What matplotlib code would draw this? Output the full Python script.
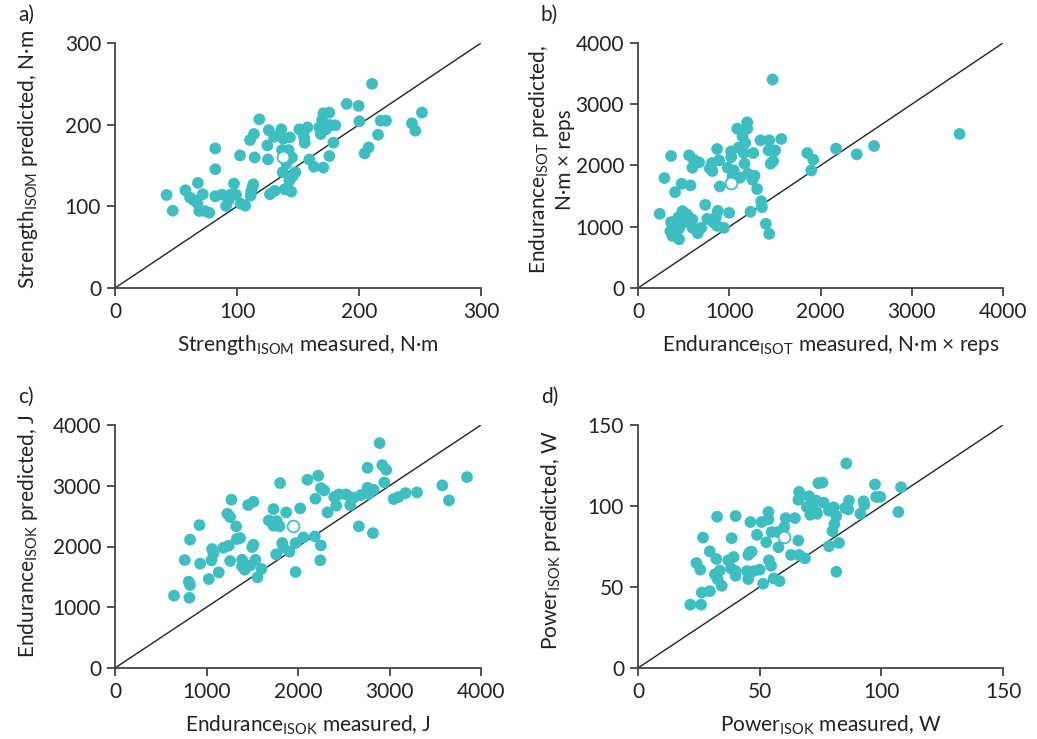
import matplotlib
matplotlib.use("Agg")
import matplotlib.pyplot as plt
import numpy as np

plt.rcParams['font.family'] = ['Lato', 'DejaVu Sans']
plt.rcParams['mathtext.fontset'] = 'custom'
plt.rcParams['mathtext.rm'] = 'Lato'

TEAL = '#3dbfc2'

# Panel a: Strength ISOM (measured, predicted)
a_meas = [42.3, 47.3, 57.7, 61.5, 64.8, 67.5, 68, 69, 71.9, 73.5, 77.3, 82.2, 82.2, 82.2, 87.7, 91,
          93.2, 94.8, 97.5, 99.2, 103, 106.8, 102.5, 110.7, 113.9, 114.5, 111.2, 111.7, 112.8, 113.4,
          118.3, 126, 124.9, 125.4, 127, 130.9, 130.3, 136.3, 138, 143.4, 136.9, 142.3, 145.1, 140.7,
          137.4, 139.1, 144.5, 142.9, 145.6, 147.8, 151.1, 154.4, 157.7, 155.5, 155, 159.3, 163.1,
          170.8, 168.6, 167.5, 169.7, 170.8, 175.7, 173, 176.2, 180.6, 179, 175.7, 189.9, 199.7, 200.3,
          210.7, 215.6, 207.9, 204.6, 217.8, 222.1, 243.4, 246.2, 251.6]
a_pred = [113.9, 94.7, 119.7, 110.7, 107.4, 104, 128.7, 94.3, 114.8, 94.3, 92.2, 170.9, 145.5, 112.3,
          114.3, 100.4, 107.4, 114.3, 127.9, 114.3, 103.3, 100.8, 162.3, 181.1, 188.5, 159.8, 113.1,
          118.9, 123.8, 127, 206.6, 193.4, 174.6, 157.4, 114.8, 118.9, 185.2, 194.3, 182.8, 184.4,
          168.9, 168.9, 159.8, 152.5, 141.8, 120.9, 118, 131.1, 136.9, 141.8, 194.3, 189.3, 196.7,
          177.9, 184.4, 157.4, 148.4, 147.5, 188.5, 196.7, 205.7, 213.9, 214.8, 194.3, 199.6, 199.2,
          177.9, 161.5, 225.4, 223, 204.1, 250, 187.7, 172.1, 164.8, 204.9, 204.9, 201.6, 192.6, 214.8]
a_mean = (138, 159.8)

# Panel b: Endurance ISOT
b_meas = [1475, 3524, 2587, 2397, 2170, 1855, 1921, 1899, 1197, 1197, 1087, 1145, 1175, 1101, 1021,
          1021, 1160, 1263, 1343, 1438, 1570, 1431, 1504, 1482, 1453, 1167, 867, 889, 809, 787, 816,
          984, 1050, 1036, 1116, 1204, 1277, 1255, 1306, 897, 362, 560, 611, 670, 596, 289, 479, 575,
          406, 736, 238, 487, 538, 443, 362, 596, 406, 501, 450, 355, 377, 450, 596, 655, 692, 758,
          875, 853, 823, 867, 941, 999, 1233, 1350, 1358, 1402, 1438]
b_pred = [3404, 2515, 2318, 2182, 2275, 2204, 2095, 1920, 2705, 2602, 2602, 2476, 2367, 2291, 2231,
          2138, 2204, 2204, 2411, 2411, 2433, 2247, 2247, 2073, 2029, 2029, 2269, 2084, 2040, 1953,
          1909, 1964, 1920, 1822, 1800, 1865, 1833, 1767, 1615, 1658, 2155, 2166, 2095, 2051, 1964,
          1795, 1702, 1675, 1565, 1358, 1211, 1255, 1200, 1156, 1075, 1118, 1058, 1075, 971, 927, 851,
          796, 982, 895, 982, 1129, 1260, 1156, 1075, 1015, 982, 1227, 1244, 1418, 1320, 1047, 884]
b_mean = (1014, 1713)

# Panel c: Endurance ISOK
c_meas = [2892, 2921, 2964, 2760, 2943, 2221, 2104, 1805, 2250, 2286, 2191, 2396, 2447, 2527, 2607,
          2687, 2760, 2826, 2775, 2571, 2418, 2323, 3045, 3096, 3176, 3300, 3577, 3650, 3847, 2665,
          2819, 2024, 1871, 1732, 1681, 1768, 1732, 1798, 2060, 2184, 2250, 2243, 1973, 1827, 1841,
          1907, 1761, 1973, 1601, 1557, 1535, 1513, 1499, 1367, 1331, 1324, 1258, 1229, 1272, 1455,
          1513, 923, 820, 1061, 1076, 1054, 1185, 1243, 762, 930, 1258, 1389, 1389, 1418, 1477, 1134,
          1025, 806, 820, 645, 813]
c_pred = [3702, 3340, 3263, 3296, 3055, 3165, 3099, 3044, 2962, 2923, 2786, 2814, 2857, 2857, 2803,
          2846, 2967, 2934, 2868, 2682, 2671, 2561, 2781, 2814, 2879, 2890, 3006, 2759, 3143, 2331,
          2221, 2627, 2561, 2616, 2430, 2419, 2342, 2331, 2150, 2166, 2018, 1772, 2057, 2057, 1980,
          1914, 1870, 1580, 1629, 1492, 1782, 2029, 1991, 2139, 2123, 2331, 2485, 2539, 2770, 2682,
          2737, 2353, 2112, 1958, 1881, 1772, 1980, 2013, 1777, 1717, 1761, 1782, 1673, 1618, 1689,
          1574, 1464, 1420, 1366, 1190, 1157]
c_mean = (1944, 2331)

# Panel d: Power ISOK
d_meas = [85.6, 74.1, 75.8, 97.4, 108.1, 97.9, 99.6, 66.2, 65.9, 70.3, 73.3, 76.3, 69.4, 71.6, 73.3,
          70.8, 73.6, 78.5, 80.4, 81.5, 80.7, 79.9, 85.1, 86.7, 86.4, 92.7, 93, 91.4, 107, 78.5, 82.6,
          81.5, 32.5, 40.1, 46.2, 50.8, 53.6, 53.6, 60.7, 64.5, 60.1, 54.9, 57.4, 48.9, 52.7, 57.7,
          65.9, 62.9, 66.2, 68.6, 26.7, 38.5, 29.5, 45.9, 46.7, 45.3, 32.2, 37.1, 39.3, 24, 25.6, 38.2,
          40.1, 40.1, 31.6, 33.6, 32.7, 34.4, 44.8, 45.3, 47.5, 50, 53.8, 54.7, 55.8, 58.2, 51.4, 29.5,
          26.2, 21.5, 25.9]
d_pred = [126.3, 114.1, 114.5, 113.3, 111.6, 105.6, 105.6, 108.7, 103.9, 106, 103.3, 102.1, 99.4,
          98.3, 96.3, 94.6, 95.2, 97.1, 99.2, 93.8, 88.8, 84.5, 98.8, 103.3, 97.9, 102.9, 100.8, 95.2,
          96.3, 75.2, 77.2, 59.4, 93.4, 93.8, 90.1, 90.1, 96.3, 91.7, 92.5, 92.5, 87, 83.9, 83.9, 82.2,
          77.6, 74.5, 78.7, 69.8, 69.8, 67.7, 80.5, 80.1, 72, 71.4, 71.8, 69.8, 67.3, 66.5, 68.5, 64.8,
          60.7, 61.5, 59.8, 56.9, 57.8, 60.2, 54.9, 50.7, 59.8, 54.9, 59.8, 60.7, 66.5, 63.1, 55.3,
          53.6, 52, 47.4, 46.6, 39.1, 39.1]
d_mean = (59.9, 81)

panels = [
    dict(letter='a)', meas=a_meas, pred=a_pred, mean=a_mean, lim=300, ticks=[0, 100, 200, 300],
         xlabel=r'Strength$_{\mathregular{ISOM}}$ measured, N·m',
         ylabel=r'Strength$_{\mathregular{ISOM}}$ predicted, N·m',
         rect=[115, 43, 481, 288], ylx=28, yshift=6),
    dict(letter='b)', meas=b_meas, pred=b_pred, mean=b_mean, lim=4000, ticks=[0, 1000, 2000, 3000, 4000],
         xlabel=r'Endurance$_{\mathregular{ISOT}}$ measured, N·m × reps',
         ylabel='Endurance$_{\\mathregular{ISOT}}$ predicted,\nN·m × reps',
         rect=[638, 43, 1003, 288], ylx=551, yshift=6),
    dict(letter='c)', meas=c_meas, pred=c_pred, mean=c_mean, lim=4000, ticks=[0, 1000, 2000, 3000, 4000],
         xlabel=r'Endurance$_{\mathregular{ISOK}}$ measured, J',
         ylabel=r'Endurance$_{\mathregular{ISOK}}$ predicted, J',
         rect=[115, 425, 481, 668], ylx=28, yshift=10),
    dict(letter='d)', meas=d_meas, pred=d_pred, mean=d_mean, lim=150, ticks=[0, 50, 100, 150],
         xlabel=r'Power$_{\mathregular{ISOK}}$ measured, W',
         ylabel=r'Power$_{\mathregular{ISOK}}$ predicted, W',
         rect=[638, 425, 1003, 668], ylx=551, yshift=6),
]

W, H = 1037, 739
fig = plt.figure(figsize=(W / 100, H / 100), dpi=100)

for p in panels:
    l, t, r, b = p['rect']
    aw, ah = r - l, b - t
    ax = fig.add_axes([l / W, 1 - b / H, aw / W, ah / H])
    lim = p['lim']
    ax.plot([0, lim], [0, lim], color='#222222', lw=1.0, zorder=1)
    ax.scatter(p['meas'], p['pred'], s=72, color=TEAL, edgecolors='none', zorder=2, clip_on=False)
    ax.scatter([p['mean'][0]], [p['mean'][1]], s=72, facecolor='white', edgecolors=TEAL,
               linewidths=1.3, zorder=3, clip_on=False)
    ax.set_xlim(0, lim)
    ax.set_ylim(0, lim)
    ax.set_xticks(p['ticks'])
    ax.set_yticks(p['ticks'])
    for s in ['top', 'right']:
        ax.spines[s].set_visible(False)
    for s in ['left', 'bottom']:
        ax.spines[s].set_color('#444444')
        ax.spines[s].set_linewidth(1.3)
    ax.tick_params(direction='out', length=6, width=1.3, color='#444444', labelsize=15,
                   labelcolor='#222222', pad=4)
    xl = ax.set_xlabel(p['xlabel'], fontsize=15, color='#222222')
    xl.set_verticalalignment('center')
    ax.xaxis.set_label_coords(0.5 + 10 / aw, -57 / ah)
    yl = ax.set_ylabel(p['ylabel'], fontsize=15, color='#222222', multialignment='center')
    yl.set_verticalalignment('center')
    ax.yaxis.set_label_coords((p['ylx'] - l) / aw, 0.5 + p['yshift'] / ah)
    fig.text((l - 97) / W, 1 - (t - 28) / H, p['letter'], fontsize=15, color='#222222',
             ha='left', va='center')

fig.savefig('out.png', dpi=100)
